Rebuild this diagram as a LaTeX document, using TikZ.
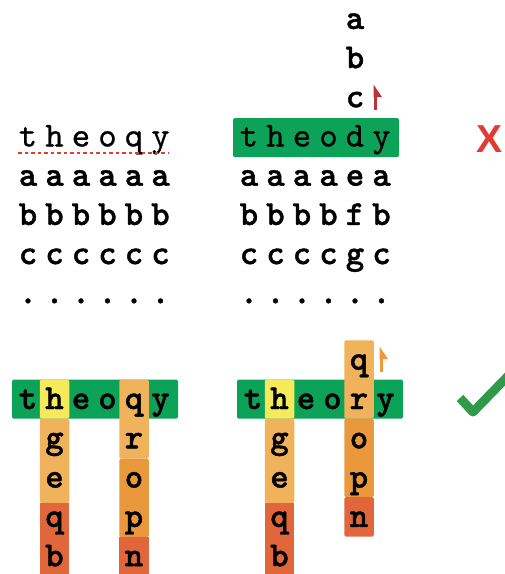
\documentclass[tikz,border=0pt]{standalone}
\usepackage{fontspec}
\setsansfont{Liberation Sans}
\newfontfamily\monob{lmmonolt10-bold.otf}[FakeBold=1.2]
\newfontfamily\monor{lmmono10-regular.otf}[FakeBold=0.7]
\definecolor{cgreen}{RGB}{12,163,88}
\definecolor{cyellow}{RGB}{245,235,90}
\definecolor{corange}{RGB}{240,178,90}
\definecolor{cdorange}{RGB}{234,152,60}
\definecolor{cred}{RGB}{226,102,60}
\definecolor{xred}{RGB}{224,60,49}
\definecolor{ckgreen}{RGB}{47,155,72}
\definecolor{arrred}{RGB}{184,51,58}
\definecolor{arrorange}{RGB}{238,154,58}
\begin{document}
\begin{tikzpicture}[x=1pt,y=-1pt,
  lt/.style={font=\fontsize{35}{35}\selectfont\monob, inner sep=0pt, anchor=base},
  lw/.style={font=\fontsize{35}{35}\selectfont\monor, inner sep=0pt, anchor=base},
  cellbox/.style={rounded corners=1.5pt},
]
\useasboundingbox (0,0) rectangle (505,574);

% ---------------- top left ----------------
\foreach \ch [count=\i from 0] in {t,h,e,o,q,y}
  \node[lw] (tlw\i) at (28+26.5*\i,146.5) {\ch};
\foreach \r/\ch in {1/a,2/b,3/c,4/.}
  \foreach \i in {0,...,5}
    \node[lt] (tl\r-\i) at (28+26.5*\i,146.5+39.2*\r) {\ch};
\draw[xred,line width=2.5pt,dash pattern=on 3.5pt off 3pt] (18,153) -- (168,153);

% ---------------- top right ----------------
\fill[cgreen,cellbox] (233,118) rectangle (399,157);
\foreach \ch [count=\i from 0] in {t,h,e,o,d,y}
  \node[lw] (trw\i) at (249+26.5*\i,146.5) {\ch};
\foreach \r/\ch in {-3/a,-2/b,-1/c}
  \node[lt] (trc\r) at (355,146.5+39.2*\r) {\ch};
\foreach \r/\ch/\m in {1/a/e,2/b/f,3/c/g,4/./.}
  \foreach \i in {0,...,5}{
    \ifnum\i=4
      \node[lt] (tr\r-\i) at (249+26.5*\i,146.5+39.2*\r) {\m};
    \else
      \node[lt] (tr\r-\i) at (249+26.5*\i,146.5+39.2*\r) {\ch};
    \fi
  }
\coordinate (ra1) at (375,110);
\coordinate (ra2) at (375,90);
\draw[arrred,line width=3pt] (ra1) -- (ra2);
\fill[arrred] (373.5,84.5) -- (382,97) -- (373.5,97) -- cycle;

% cross
\node[font=\fontsize{39}{39}\selectfont\sffamily\bfseries,text=xred,inner sep=0pt] (cross) at (490,139.5) {X};

% ---------------- bottom left ----------------
\fill[cgreen,cellbox] (12,379.6) rectangle (178,418.6);
\fill[cyellow,cellbox] (39.75,379.6) rectangle (69.25,418.6);
\fill[corange,cellbox] (39.75,418.6) rectangle (69.25,503);
\fill[cred] (39.75,503) rectangle (69.25,576);
\fill[corange,cellbox] (119.25,379.6) rectangle (148.75,458.6);
\fill[cdorange,cellbox] (119.25,458.6) rectangle (148.75,537.2);
\fill[cred] (119.25,537.2) rectangle (148.75,576);
\foreach \ch [count=\i from 0] in {t,h,e,o,q,y}
  \node[lt] (blw\i) at (28+26.5*\i,409) {\ch};
\foreach \ch [count=\r from 1] in {g,e,q,b}
  \node[lt] (blc\r) at (54.5,409+39.3*\r) {\ch};
\foreach \ch [count=\r from 1] in {r,o,p,n}
  \node[lt] (brc\r) at (134,409+39.3*\r) {\ch};

% ---------------- bottom right ----------------
\fill[cgreen,cellbox] (237,379.6) rectangle (403,418.6);
\fill[cyellow,cellbox] (264.75,379.6) rectangle (294.25,418.6);
\fill[corange,cellbox] (264.75,418.6) rectangle (294.25,503);
\fill[cred] (264.75,503) rectangle (294.25,576);
\fill[corange,cellbox] (344.25,340.3) rectangle (373.75,418.6);
\fill[cdorange,cellbox] (344.25,418.6) rectangle (373.75,497.2);
\fill[cred,cellbox] (344.25,497.2) rectangle (373.75,536.5);
\foreach \ch [count=\i from 0] in {t,h,e,o,r,y}
  \node[lt] (rlw\i) at (253+26.5*\i,409) {\ch};
\foreach \ch [count=\r from 1] in {g,e,q,b}
  \node[lt] (rlc\r) at (279.5,409+39.3*\r) {\ch};
\node[lt] (rrq) at (359,409-39.3) {q};
\foreach \ch [count=\r from 1] in {o,p,n}
  \node[lt] (rrc\r) at (359,409+39.3*\r) {\ch};
\coordinate (oa1) at (381,372);
\coordinate (oa2) at (381,352);
\draw[arrorange,line width=3pt] (oa1) -- (oa2);
\fill[arrorange] (379.5,346.5) -- (388,359) -- (379.5,359) -- cycle;

% check mark
\coordinate (k1) at (460,398);
\coordinate (k2) at (473,412);
\coordinate (k3) at (510,374);
\draw[ckgreen,line width=9pt,line join=round] (k1) -- (k2) -- (k3);
\end{tikzpicture}
\end{document}
